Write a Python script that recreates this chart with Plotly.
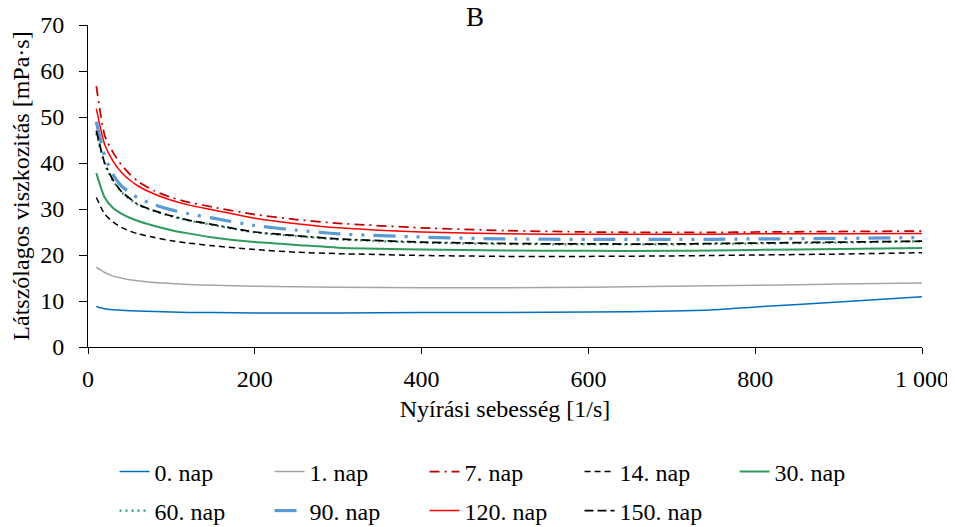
import plotly.graph_objects as go

shear_rate = [10, 20, 30, 40, 50, 60, 80, 100, 120, 150, 200, 250, 300, 400, 500, 600, 700, 750, 800, 900, 1000]

nap_0 = [8.8, 8.3, 8.1, 8.0, 7.9, 7.8, 7.7, 7.6, 7.5, 7.5, 7.4, 7.4, 7.4, 7.5, 7.5, 7.6, 7.8, 8.1, 8.7, 9.8, 10.9]
nap_1 = [17.3, 16.2, 15.4, 15.0, 14.6, 14.4, 14.0, 13.8, 13.6, 13.4, 13.2, 13.1, 13.0, 12.9, 12.9, 13.0, 13.2, 13.3, 13.4, 13.7, 13.9]
nap_7 = [56.7, 46.0, 42.3, 39.6, 37.6, 36.0, 33.9, 32.5, 31.5, 30.4, 28.8, 27.7, 26.9, 25.9, 25.3, 25.0, 24.9, 24.9, 25.0, 25.1, 25.2]
nap_14 = [32.5, 28.9, 27.2, 26.0, 25.2, 24.6, 23.8, 23.1, 22.6, 22.0, 21.2, 20.6, 20.3, 19.9, 19.7, 19.7, 19.8, 19.9, 20.0, 20.2, 20.5]
nap_30 = [37.8, 32.5, 30.2, 29.0, 28.1, 27.4, 26.3, 25.4, 24.7, 23.8, 22.8, 22.2, 21.6, 21.2, 21.0, 20.9, 20.9, 21.0, 21.1, 21.3, 21.5]
nap_60 = [46.5, 39.8, 36.1, 33.7, 32.2, 30.9, 29.5, 28.4, 27.5, 26.5, 24.9, 24.1, 23.4, 22.7, 22.4, 22.3, 22.3, 22.4, 22.5, 22.7, 23.0]
nap_90 = [49.0, 41.5, 37.5, 35.0, 33.6, 32.4, 30.9, 29.8, 29.0, 28.0, 26.4, 25.4, 24.6, 23.9, 23.5, 23.4, 23.4, 23.4, 23.5, 23.6, 23.8]
nap_120 = [51.8, 44.0, 40.4, 38.0, 36.3, 35.0, 33.2, 31.9, 30.9, 29.8, 28.0, 26.8, 25.9, 25.0, 24.6, 24.5, 24.5, 24.5, 24.6, 24.6, 24.7]
nap_150 = [47.0, 40.0, 36.3, 33.8, 32.3, 31.0, 29.6, 28.5, 27.6, 26.6, 25.0, 24.2, 23.5, 22.8, 22.5, 22.4, 22.4, 22.5, 22.6, 22.8, 23.0]

x_tickvals = [0, 200, 400, 600, 800, 1000]
x_ticktext = ["0", "200", "400", "600", "800", "1 000"]
y_tickvals = [0, 10, 20, 30, 40, 50, 60, 70]

FONT = "Liberation Serif"
FS = 24

series = [
    ("0. nap", nap_0, "#0070C0", "solid", 1.5, "legend"),
    ("1. nap", nap_1, "#A5A5A5", "solid", 1.5, "legend"),
    ("7. nap", nap_7, "#C00000", "10px,5px,2px,5px", 1.75, "legend"),
    ("14. nap", nap_14, "#000000", "6px,4px", 1.5, "legend"),
    ("30. nap", nap_30, "#2E9A5C", "solid", 2, "legend"),
    ("60. nap", nap_60, "#2E9A5C", "2px,4px", 2.25, "legend2"),
    ("90. nap", nap_90, "#5B9BD5", "22px,9px,3px,9px,3px,9px", 3.25, "legend2"),
    ("120. nap", nap_120, "#FF0000", "solid", 1.5, "legend2"),
    ("150. nap", nap_150, "#000000", "9px,4px,9px,4px,9px,4px,2px,4px", 1.75, "legend2"),
]

fig = go.Figure()
for name, vals, color, dash, width, leg in series:
    fig.add_trace(go.Scatter(
        x=shear_rate, y=vals, mode="lines", name=name,
        line=dict(color=color, dash=dash, width=width, shape="spline", smoothing=0.6),
        legend=leg,
    ))

legend_common = dict(orientation="h", font=dict(family=FONT, size=FS, color="#000"),
                     bgcolor="rgba(0,0,0,0)", xanchor="left", yanchor="middle",
                     xref="container", yref="container",
                     entrywidthmode="pixels", entrywidth=110, itemwidth=30)

fig.update_layout(
    width=947, height=519,
    margin=dict(l=80, r=33, t=17, b=180, autoexpand=False),
    paper_bgcolor="white", plot_bgcolor="white",
    font=dict(family=FONT, size=FS, color="#000"),
    showlegend=True,
    legend=dict(x=0.1125, y=0.106, **legend_common),
    legend2=dict(x=0.1125, y=0.031, **legend_common),
    xaxis=dict(
        range=[0, 1000], tickvals=x_tickvals, ticktext=x_ticktext,
        showgrid=False, zeroline=False, showline=True, linecolor="#000", linewidth=1,
        ticks="outside", ticklen=6, tickcolor="#000", ticklabelstandoff=4,
        tickfont=dict(family=FONT, size=FS, color="#000"),
        title=dict(text="Nyírási sebesség [1/s]", font=dict(family=FONT, size=FS, color="#000"), standoff=9),
    ),
    yaxis=dict(
        range=[0, 70], tickvals=y_tickvals,
        showgrid=False, zeroline=False, showline=True, linecolor="#000", linewidth=1,
        ticks="outside", ticklen=8, tickcolor="#000", ticklabelstandoff=10,
        tickfont=dict(family=FONT, size=FS, color="#000"),
        title=dict(text="Látszólagos viszkozitás [mPa·s]", font=dict(family=FONT, size=FS, color="#000"), standoff=6),
    ),
    annotations=[dict(text="B", x=0.464, y=1.026, xref="paper", yref="paper",
                      xanchor="center", yanchor="middle",
                      showarrow=False, font=dict(family=FONT, size=27, color="#000"))],
)

fig.write_html("out.html")
